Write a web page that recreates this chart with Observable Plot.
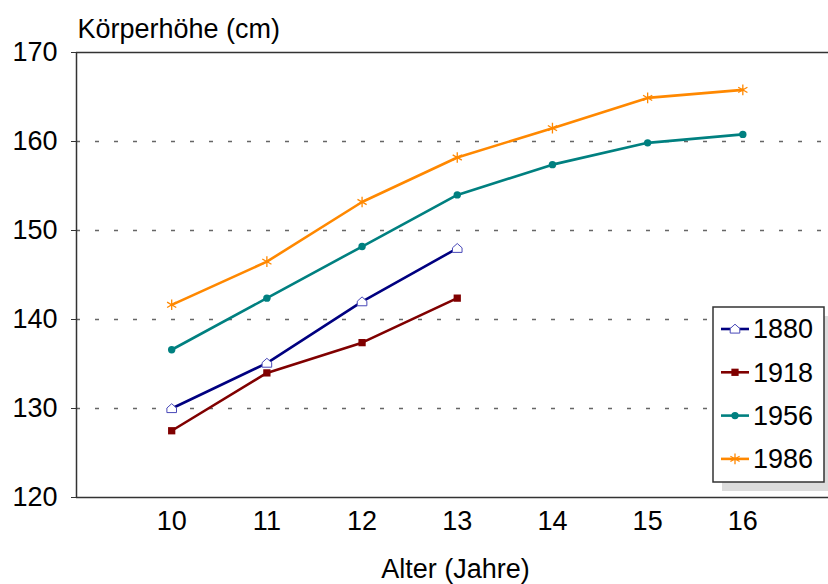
<!DOCTYPE html>
<html>
<head>
<meta charset="utf-8">
<script src="https://cdn.jsdelivr.net/npm/d3@7"></script>
<script src="https://cdn.jsdelivr.net/npm/@observablehq/plot@0.6"></script>
<style>
  html, body { margin: 0; padding: 0; background: #fff; }
  #chart { width: 828px; height: 584px; overflow: hidden; }
</style>
</head>
<body>
<div id="chart"></div>
<script>
// Body height by age, four survey years
const ages = [10, 11, 12, 13, 14, 15, 16];
const years = ["1880", "1918", "1956", "1986"];
const h1880 = [130.0, 135.1, 142.0, 148.0];
const h1918 = [127.5, 134.0, 137.4, 142.4];
const h1956 = [136.6, 142.4, 148.2, 154.0, 157.4, 159.85, 160.8];
const h1986 = [141.65, 146.5, 153.2, 158.2, 161.5, 164.9, 165.8];
const yTicks = [120, 130, 140, 150, 160, 170];
const gridValues = [130, 140, 150, 160];
const colors = ["#000080", "#800000", "#008080", "#ff8800"];

const font = "'Liberation Sans', Arial, sans-serif";

// House-shaped (pentagon) symbol
const symbolHouse = {
  draw(ctx, size) {
    const r = Math.sqrt(size / Math.PI);
    ctx.moveTo(-r, r * 0.85);
    ctx.lineTo(r, r * 0.85);
    ctx.lineTo(r, -0.1 * r);
    ctx.lineTo(0, -r);
    ctx.lineTo(-r, -0.1 * r);
    ctx.closePath();
  }
};

const seriesValues = [h1880, h1918, h1956, h1986];
const rows = [];
years.forEach((yr, i) => {
  seriesValues[i].forEach((v, j) => rows.push({year: yr, age: ages[j], height: v}));
});
const of = yr => rows.filter(d => d.year === yr);

const markerStyles = {
  "1880": {symbol: symbolHouse, r: 4.8, fill: "white", stroke: "#4848b8", strokeWidth: 1},
  "1918": {symbol: "square", r: 4.1, fill: colors[1], stroke: "none"},
  "1956": {symbol: "circle", r: 3.7, fill: colors[2], stroke: "none"},
  "1986": {symbol: "asterisk", r: 5, fill: "none", stroke: colors[3], strokeWidth: 1.3}
};

const chart = Plot.plot({
  width: 828,
  height: 584,
  marginLeft: 76,
  marginRight: 0,
  marginTop: 52,
  marginBottom: 87,
  style: {fontFamily: font, fontSize: "27px", color: "#000", background: "#fff"},
  x: {domain: [9, 16.9]},
  y: {domain: [120, 170]},
  color: {domain: years, range: colors},
  marks: [
    Plot.ruleY(gridValues, {stroke: "#666", strokeWidth: 1.6, strokeDasharray: "4,15"}),
    Plot.axisY({ticks: yTicks, tickSize: 5, tickPadding: 14, label: null, stroke: "#333", fontSize: 27}),
    Plot.axisX({ticks: ages, tickSize: 0, tickPadding: 13, label: null, fontSize: 27}),
    Plot.ruleX([9], {stroke: "#333", strokeWidth: 1.5}),
    Plot.ruleY([120, 170], {stroke: "#333", strokeWidth: 1.5}),
    Plot.line(rows, {x: "age", y: "height", z: "year", stroke: "year", strokeWidth: 2.6}),
    ...years.map(yr => Plot.dot(of(yr), {x: "age", y: "height", ...markerStyles[yr]})),
    Plot.text(["Körperhöhe (cm)"], {frameAnchor: "top-left", textAnchor: "start", lineAnchor: "middle", dx: 1, dy: -23, fontSize: 27}),
    Plot.text(["Alter (Jahre)"], {frameAnchor: "bottom", lineAnchor: "middle", dx: 3, dy: 72, fontSize: 27})
  ]
});

document.getElementById("chart").appendChild(chart);

// Boxed legend with drop shadow, lower right
const svg = d3.select(chart);
const lg = svg.append("g").attr("transform", "translate(713,307)");
lg.append("rect").attr("x", 9).attr("y", 9).attr("width", 120).attr("height", 175).attr("fill", "#dcdcdc");
lg.append("rect").attr("x", 0).attr("y", 0).attr("width", 111).attr("height", 175)
  .attr("fill", "white").attr("stroke", "#333").attr("stroke-width", 1.5);
const d3sym = {"1918": d3.symbolSquare, "1956": d3.symbolCircle, "1986": d3.symbolAsterisk, "1880": symbolHouse};
years.forEach((yr, i) => {
  const cy = 22 + i * 43.3;
  const g = lg.append("g").attr("transform", `translate(0,${cy})`);
  g.append("line").attr("x1", 8).attr("x2", 36).attr("y1", 0).attr("y2", 0)
    .attr("stroke", colors[i]).attr("stroke-width", 2.6);
  const m = markerStyles[yr];
  g.append("path").attr("transform", "translate(22,0)")
    .attr("d", d3.symbol(d3sym[yr], Math.PI * m.r * m.r)())
    .attr("fill", m.fill).attr("stroke", m.stroke).attr("stroke-width", m.strokeWidth || 0);
  g.append("text").attr("x", 40).attr("y", 0).attr("dy", "0.35em")
    .attr("text-anchor", "start")
    .attr("font-family", font).attr("font-size", 27).attr("fill", "#000").text(yr);
});
</script>
</body>
</html>
